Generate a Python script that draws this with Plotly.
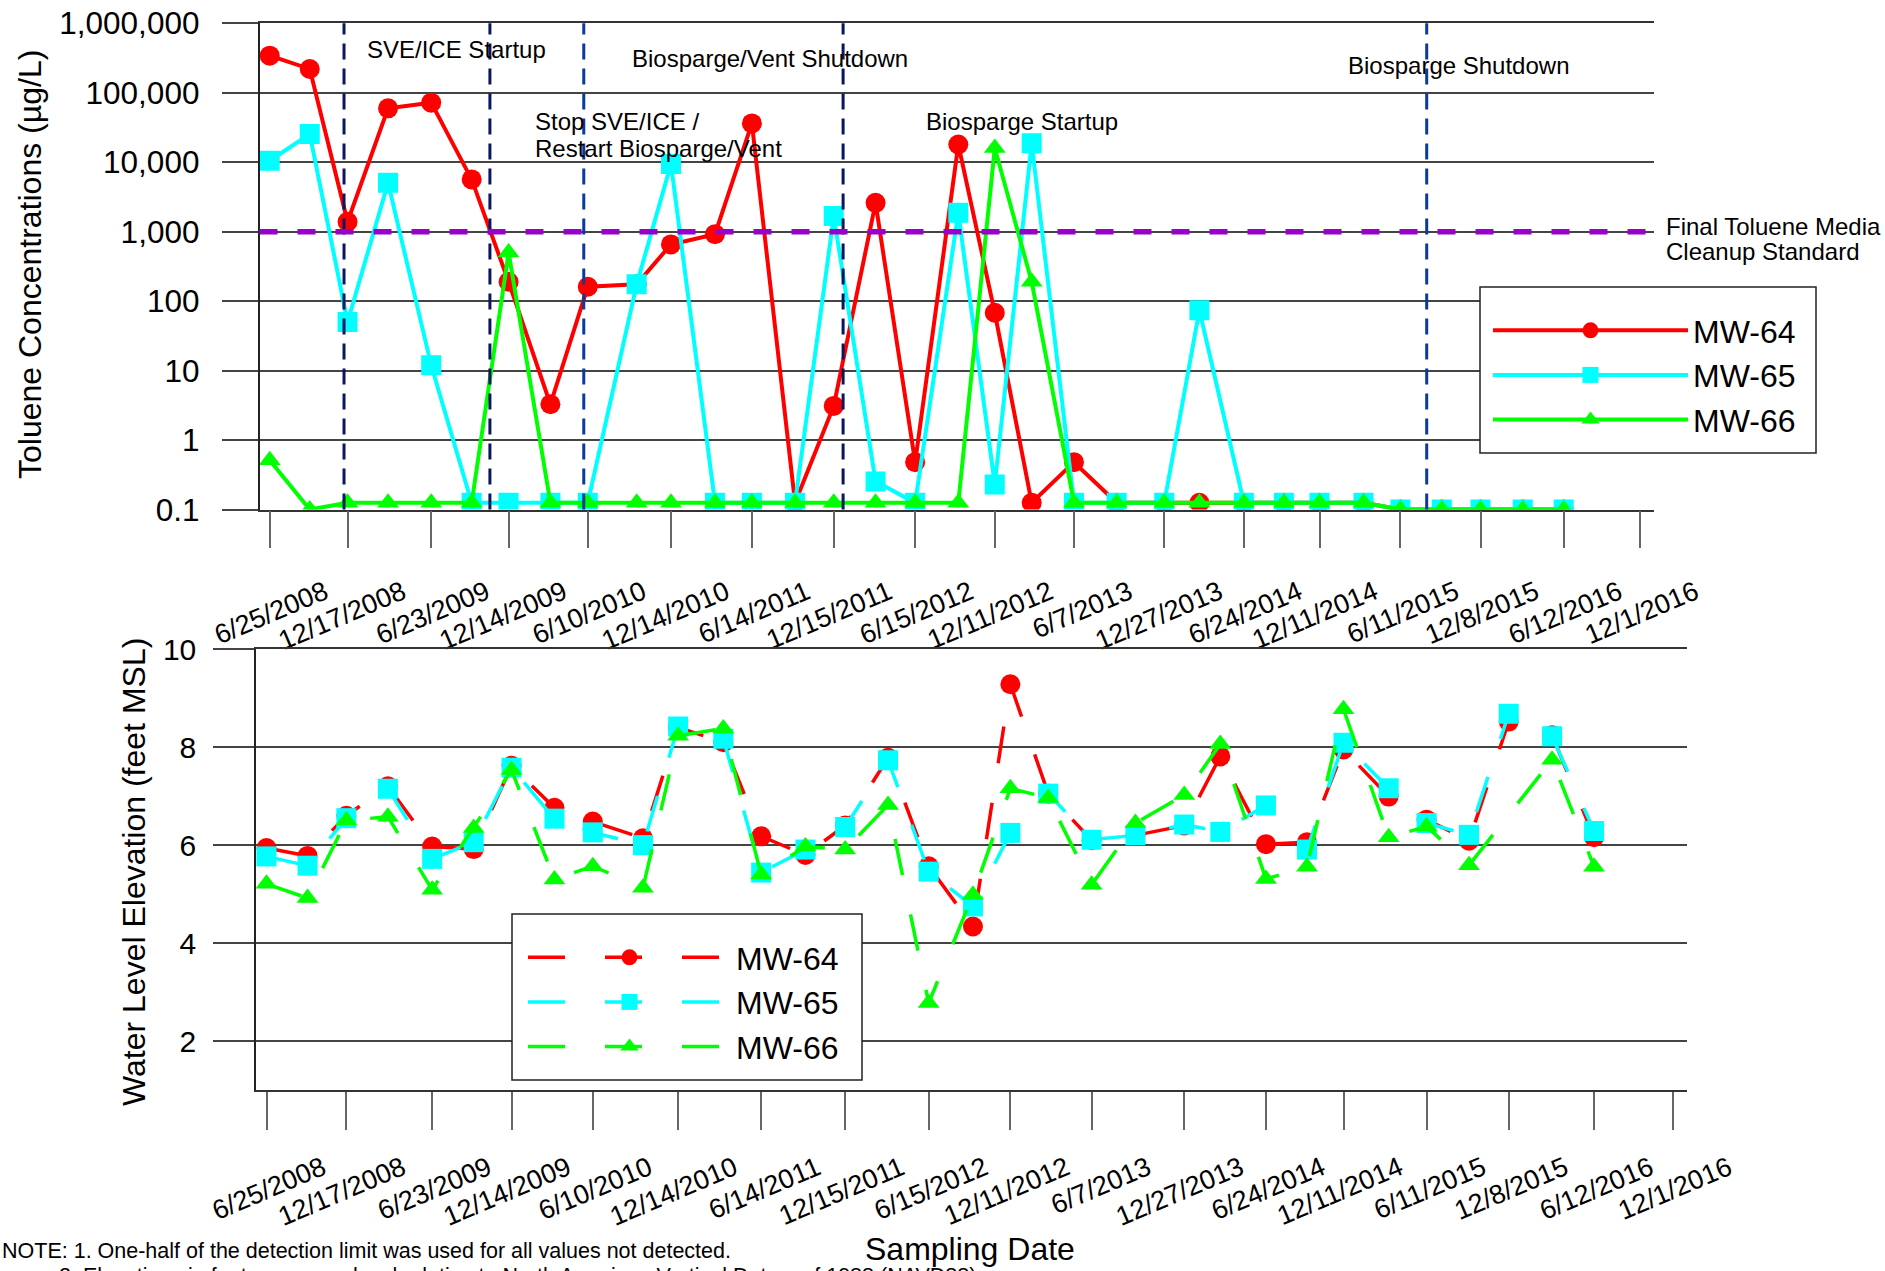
import plotly.graph_objects as go

W, H = 1885, 1271
FONT = "Liberation Sans, Arial, sans-serif"

# ---------------- data ----------------
sample_dates = [
    "2008-06-25", "2008-09-23", "2008-12-17", "2009-03-18", "2009-06-23", "2009-09-22",
    "2009-12-14", "2010-03-18", "2010-06-10", "2010-09-28", "2010-12-14", "2011-03-23",
    "2011-06-14", "2011-09-19", "2011-12-15", "2012-03-18", "2012-06-15", "2012-09-20",
    "2012-12-11", "2013-03-04", "2013-06-07", "2013-09-11", "2013-12-27", "2014-03-16",
    "2014-06-24", "2014-09-22", "2014-12-11", "2015-03-20", "2015-06-11", "2015-09-12",
    "2015-12-08", "2016-03-12", "2016-06-12",
]

toluene_mw64 = [342000, 220000, 1390, 59600, 72000, 5650, 190, 3.27, 161, 175, 655, 920,
                36200, 0.125, 3.1, 2600, 0.48, 18000, 68, 0.125, 0.48, 0.125, 0.125, 0.125,
                0.125, 0.125, 0.125, 0.125, 0.1, 0.1, 0.1, 0.1, 0.1]
toluene_mw65 = [10500, 25400, 50, 5060, 11.9, 0.125, 0.125, 0.125, 0.125, 175, 9400, 0.125,
                0.125, 0.125, 1675, 0.254, 0.125, 1870, 0.23, 18700, 0.125, 0.125, 0.125, 74,
                0.125, 0.125, 0.125, 0.125, 0.1, 0.1, 0.1, 0.1, 0.1]
toluene_mw66 = [0.51, 0.1, 0.125, 0.125, 0.125, 0.125, 500, 0.125, 0.125, 0.125, 0.125, 0.125,
                0.125, 0.125, 0.125, 0.125, 0.125, 0.125, 16000, 190, 0.125, 0.125, 0.125, 0.125,
                0.125, 0.125, 0.125, 0.125, 0.1, 0.1, 0.1, 0.1, 0.1]

water_mw64 = [5.94, 5.78, 6.60, 7.20, 5.97, 5.92, 7.62, 6.76, 6.48, 6.14, 8.40, 8.10,
              6.18, 5.80, 6.40, 7.78, 5.57, 4.34, 9.28, 7.05, 6.10, 6.20, 6.40, 7.81,
              6.02, 6.06, 7.95, 6.99, 6.52, 6.09, 8.52, 8.24, 6.16]
water_mw65 = [5.77, 5.58, 6.55, 7.15, 5.72, 6.06, 7.58, 6.54, 6.26, 6.00, 8.42, 8.17,
              5.44, 5.91, 6.37, 7.73, 5.46, 4.75, 6.25, 7.05, 6.11, 6.20, 6.42, 6.27,
              6.81, 5.91, 8.09, 7.16, 6.45, 6.21, 8.68, 8.22, 6.29]
water_mw66 = [5.21, 4.92, 6.50, 6.58, 5.09, 6.35, 7.53, 5.30, 5.57, 5.13, 8.23, 8.38,
              5.40, 5.97, 5.91, 6.82, 2.78, 4.99, 7.16, 6.96, 5.19, 6.45, 7.02, 8.06,
              5.31, 5.56, 8.77, 6.16, 6.38, 5.59, None, 7.74, 5.56]

tick_dates = ["2008-06-25", "2008-12-17", "2009-06-23", "2009-12-14", "2010-06-10",
              "2010-12-14", "2011-06-14", "2011-12-15", "2012-06-15", "2012-12-11",
              "2013-06-07", "2013-12-27", "2014-06-24", "2014-12-11", "2015-06-11",
              "2015-12-08", "2016-06-12", "2016-12-01"]
tick_labels = ["6/25/2008", "12/17/2008", "6/23/2009", "12/14/2009", "6/10/2010",
               "12/14/2010", "6/14/2011", "12/15/2011", "6/15/2012", "12/11/2012",
               "6/7/2013", "12/27/2013", "6/24/2014", "12/11/2014", "6/11/2015",
               "12/8/2015", "6/12/2016", "12/1/2016"]

conc_ticks = [0.1, 1, 10, 100, 1000, 10000, 100000, 1000000]
conc_tick_text = ["0.1", "1", "10", "100", "1,000", "10,000", "100,000", "1,000,000"]
water_ticks = [2, 4, 6, 8, 10]

event_dates = ["2008-12-09", "2009-11-02", "2010-06-01", "2012-01-05", "2015-08-09"]
event_colors = ["#0b1660", "#0b1660", "#0a3a9c", "#0b1660", "#0a3a9c"]
cleanup_standard = 1000

x_range = ["2008-06-02", "2017-01-01"]

wells = ["MW-64", "MW-65", "MW-66"]
colors = ["#ff0000", "#00ffff", "#00ff00"]
symbols = ["circle", "square", "triangle-up"]
sizes = [20, 20, 19]

# ---------------- figure ----------------
fig = go.Figure()

def px_x(v):
    return v / W

def px_y(v):
    return 1 - v / H

for name, vals, c, s, sz in zip(wells, [toluene_mw64, toluene_mw65, toluene_mw66], colors, symbols, sizes):
    fig.add_trace(go.Scatter(
        x=sample_dates, y=vals, name=name, mode="lines+markers",
        line=dict(color=c, width=4), marker=dict(color=c, symbol=s, size=sz),
        xaxis="x", yaxis="y", legend="legend"))

for name, vals, c, s, sz in zip(wells, [water_mw64, water_mw65, water_mw66], colors, symbols, sizes):
    fig.add_trace(go.Scatter(
        x=sample_dates, y=vals, name=name, mode="lines+markers", connectgaps=True,
        line=dict(color=c, width=3.5, dash="37px,40px"), marker=dict(color=c, symbol=s, size=sz),
        xaxis="x2", yaxis="y2", legend="legend2"))

# vertical event lines
for d, c in zip(event_dates, event_colors):
    fig.add_shape(type="line", xref="x", yref="y domain", x0=d, x1=d, y0=0, y1=1,
                  line=dict(color=c, width=3, dash="16px,9px"))
# cleanup standard
fig.add_shape(type="line", xref="x domain", yref="y", x0=0, x1=1.004,
              y0=cleanup_standard, y1=cleanup_standard,
              line=dict(color="#9a00cc", width=5.5, dash="18px,20px"))

# legend frames (white boxes behind the legends)
for (x0, y0, x1, y1) in [(1480, 287, 1816, 453), (512, 914, 862, 1080)]:
    fig.add_shape(type="rect", xref="paper", yref="paper",
                  x0=px_x(x0), x1=px_x(x1), y0=px_y(y1), y1=px_y(y0),
                  fillcolor="white", line=dict(color="#222", width=1.5), layer="above")

axis_common = dict(type="date", range=x_range, tickmode="array", tickvals=tick_dates,
                   ticktext=tick_labels, tickangle=-23, ticks="outside", tickwidth=1.5,
                   tickcolor="#666", showline=True, linecolor="#333", linewidth=1.5,
                   mirror=True, showgrid=False, zeroline=False,
                   tickfont=dict(family=FONT, size=27, color="black"))

fig.update_layout(
    width=W, height=H, margin=dict(l=0, r=0, t=0, b=0, autoexpand=False),
    paper_bgcolor="white", plot_bgcolor="white",
    font=dict(family=FONT, color="black"),
    xaxis=dict(domain=[px_x(259.5), px_x(1654)], anchor="y", ticklen=37,
               ticklabelstandoff=18, ticklabelshift=55, **axis_common),
    xaxis2=dict(domain=[px_x(256), px_x(1686.7)], anchor="y2", ticklen=38,
                ticklabelstandoff=12, ticklabelshift=56, **axis_common),
    yaxis=dict(domain=[px_y(509.5), px_y(23.3)], anchor="x", type="log", range=[-1, 6],
               tickmode="array", tickvals=conc_ticks, ticktext=conc_tick_text,
               ticks="outside", ticklen=36, tickwidth=1.5, tickcolor="#444",
               showgrid=True, gridcolor="#444", gridwidth=1.5,
               showline=True, linecolor="#222", linewidth=1.5, zeroline=False,
               ticklabelstandoff=16, tickfont=dict(family=FONT, size=31.5, color="black")),
    yaxis2=dict(domain=[px_y(1090.3), px_y(649)], anchor="x2", range=[1, 10],
                tickmode="array", tickvals=water_ticks,
                ticks="outside", ticklen=41, tickwidth=1.5, tickcolor="#444",
                showgrid=True, gridcolor="#444", gridwidth=1.5,
                showline=True, linecolor="#222", linewidth=1.5, zeroline=False,
                ticklabelstandoff=11, tickfont=dict(family=FONT, size=30, color="black")),
    legend=dict(x=px_x(1488), y=px_y(303), xanchor="left", yanchor="top",
                bgcolor="rgba(0,0,0,0)", borderwidth=0,
                font=dict(family=FONT, size=32, color="black"), itemwidth=195,
                tracegroupgap=0),
    legend2=dict(x=px_x(523), y=px_y(930), xanchor="left", yanchor="top",
                 bgcolor="rgba(0,0,0,0)", borderwidth=0,
                 font=dict(family=FONT, size=32, color="black"), itemwidth=203,
                 tracegroupgap=0),
    showlegend=True,
)

def note(text, x, y, size=24, xanchor="left", angle=0):
    fig.add_annotation(text=text, x=px_x(x), y=px_y(y), xref="paper", yref="paper",
                       xanchor=xanchor, yanchor="middle", showarrow=False, textangle=angle,
                       font=dict(family=FONT, size=size, color="black"))

note("SVE/ICE Startup", 365, 50)
note("Biosparge/Vent Shutdown", 630, 59)
note("Stop SVE/ICE /", 533, 122)
note("Restart Biosparge/Vent", 533, 148)
note("Biosparge Startup", 924, 122)
note("Biosparge Shutdown", 1346, 65)
note("Final Toluene Media", 1664, 226)
note("Cleanup Standard", 1664, 252)

note("Toluene Concentrations (µg/L)", 30, 265, size=32, xanchor="center", angle=-90)
note("Water Level Elevation (feet MSL)", 134, 872, size=32, xanchor="center", angle=-90)
note("Sampling Date", 970, 1249, size=32, xanchor="center")
note("NOTE: 1. One-half of the detection limit was used for all values not detected.",
     0, 1251, size=21.5)
note("2. Elevations in feet mean sea level relative to North American Vertical Datum of 1988 (NAVD88).",
     57, 1276, size=21.5)

fig.write_html("out.html", config={"displayModeBar": False},
               post_script="document.body.style.margin='0px';")
